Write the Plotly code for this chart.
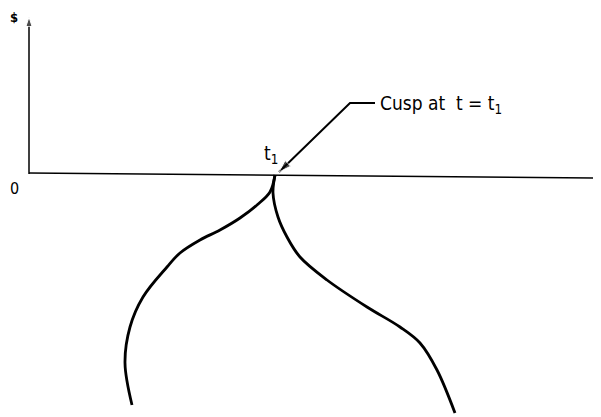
import plotly.graph_objects as go

# Chart data (t, $) in chart units; origin at the axes corner
left_t = [246, 241, 228, 211, 191, 171, 151, 138, 114, 101, 96, 103]
left_v = [-1, -18, -31, -44, -56, -66, -79, -93, -123, -153, -189, -231]
right_t = [246, 244, 249, 258, 271, 298, 338, 371, 391, 408, 426]
right_v = [-1, -19, -43, -63, -83, -106, -133, -153, -169, -196, -239]
axis_t = [0, 572]
axis_v = [1, -4]
leader_t = [346, 321, 250]
leader_v = [71, 71, 2]
label_text = "Cusp at  t = t<sub>1</sub>"

FONT = "Liberation Sans Narrow, DejaVu Sans Condensed, Arial Narrow, sans-serif"

fig = go.Figure()
line_style = dict(color="black", width=2.8, shape="spline", smoothing=1.0)
fig.add_trace(go.Scatter(x=left_t, y=left_v, mode="lines", line=line_style, hoverinfo="skip"))
fig.add_trace(go.Scatter(x=right_t, y=right_v, mode="lines", line=line_style, hoverinfo="skip"))
# horizontal axis
fig.add_trace(go.Scatter(x=axis_t, y=axis_v, mode="lines", line=dict(color="black", width=1.5), hoverinfo="skip"))
# vertical axis with small arrow tip
fig.add_trace(go.Scatter(x=[0, 0], y=[0, 157], mode="lines+markers",
                         line=dict(color="black", width=1.5),
                         marker=dict(symbol="arrow", size=[0, 10], angleref="previous", color="black"),
                         hoverinfo="skip"))
# leader line with arrow to the cusp
fig.add_trace(go.Scatter(x=leader_t, y=leader_v, mode="lines+markers",
                         line=dict(color="black", width=2),
                         marker=dict(symbol="arrow", size=[0, 0, 13], angleref="previous", color="black"),
                         hoverinfo="skip"))

annotations = [
    dict(x=349, y=70, xref="x", yref="y", text=label_text, showarrow=False,
         xanchor="left", yanchor="middle", font=dict(family=FONT, size=19, color="black")),
    dict(x=242, y=20, xref="x", yref="y", text="t<sub>1</sub>", showarrow=False,
         xanchor="center", yanchor="middle", font=dict(family=FONT, size=19, color="black")),
    dict(x=-15, y=157, xref="x", yref="y", text="<b>$</b>", showarrow=False,
         xanchor="center", yanchor="middle", font=dict(family=FONT, size=13, color="black")),
    dict(x=-15, y=-14, xref="x", yref="y", text="0", showarrow=False,
         xanchor="center", yanchor="middle", font=dict(family=FONT, size=16, color="black")),
]

# the page body adds an 8px margin, so the figure is 8px smaller and the ranges shifted
fig.update_layout(
    width=593, height=409,
    margin=dict(l=0, r=0, t=0, b=0),
    paper_bgcolor="white", plot_bgcolor="white",
    showlegend=False,
    xaxis=dict(range=[-21, 572], visible=False, fixedrange=True),
    yaxis=dict(range=[-243, 166], visible=False, fixedrange=True),
    annotations=annotations,
)

fig.write_html("out.html")
